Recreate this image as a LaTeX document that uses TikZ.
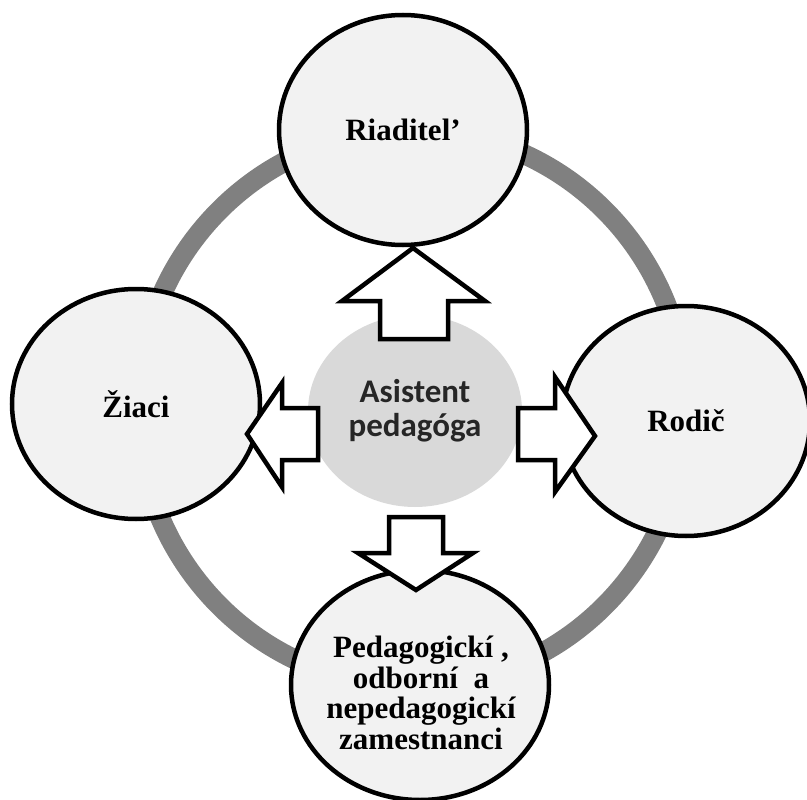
\documentclass[tikz,border=0pt]{standalone}
\usepackage{fontspec}
\setmainfont{Liberation Serif}
\newfontfamily\calib{Carlito}
\usetikzlibrary{shapes.geometric}
\definecolor{ringgray}{HTML}{808080}
\definecolor{circfill}{HTML}{F2F2F2}
\definecolor{centfill}{HTML}{D9D9D9}
\definecolor{centtext}{HTML}{262626}
\tikzset{
  outer/.style={ellipse, draw=black, line width=4.5pt, fill=circfill, inner sep=0pt,
    minimum width=248pt, minimum height=230pt, align=center,
    font=\fontsize{31}{30.5}\selectfont\bfseries},
  blockarrow/.style={draw=black, fill=white, line width=4.5pt, line join=miter},
}
\begin{document}
\begin{tikzpicture}[x=1pt,y=-1pt]
\useasboundingbox (0,0) rectangle (807,800);
% ring
\draw[ringgray, line width=20pt] (412,408) ellipse [x radius=274, y radius=278];
% outer circles
\node[outer] (top) at (403,130) {Riaditel’};
\node[outer] (left) at (136,404) {Žiaci};
\node[outer] (right) at (686,421) {Rodič};
\node[outer, minimum width=258pt] (bottom) at (420,685) {};
\node[align=center, inner sep=0pt, font=\fontsize{31}{30.5}\selectfont\bfseries] (bottomtext) at (421,693) {Pedagogickí ,\\odborní\ \ a\\nepedagogickí\\zamestnanci};
% centre
\node[ellipse, fill=centfill, minimum width=214pt, minimum height=192pt, inner sep=0pt,
  align=center, text=centtext, font=\calib\fontsize{33}{34}\selectfont\bfseries] (centre) at (415,411) {Asistent\\pedagóga};
% block arrows
\draw[blockarrow] (413,248) -- (485,301) -- (448,301) -- (448,339) -- (380,339) -- (380,301) -- (342,301) -- cycle;
\draw[blockarrow] (247,434) -- (282,383) -- (282,408) -- (318,408) -- (318,460) -- (282,460) -- (282,487) -- cycle;
\draw[blockarrow] (595,436) -- (555,377) -- (555,408) -- (518,408) -- (518,460) -- (555,460) -- (555,492) -- cycle;
\draw[blockarrow] (416,590) -- (473,553) -- (443,553) -- (443,517) -- (389,517) -- (389,553) -- (358,553) -- cycle;
\end{tikzpicture}
\end{document}
